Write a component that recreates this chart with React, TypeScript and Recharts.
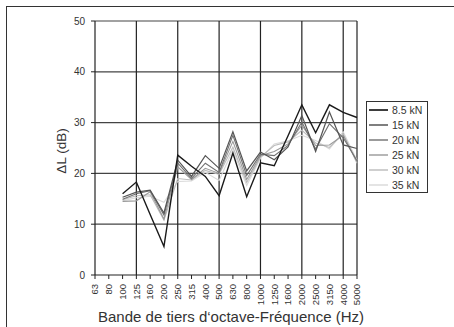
import React from 'react';
import { LineChart, Line, XAxis, YAxis, ReferenceLine } from 'recharts';

// tiers d'octave, 63 Hz .. 5000 Hz
const FREQS = ['63', '80', '100', '125', '160', '200', '250', '315', '400', '500', '630', '800', '1000', '1250', '1600', '2000', '2500', '3150', '4000', '5000'];

const LOAD_8_5 = [null, null, 16.0, 18.3, 11.9, 5.6, 23.6, 21.4, 19.4, 15.6, 24.0, 15.4, 22.1, 21.5, 27.4, 33.5, 28.0, 33.5, 32.0, 31.0];
const LOAD_15 = [null, null, 15.3, 16.3, 16.7, 12.2, 22.6, 19.4, 23.5, 21.0, 28.2, 20.5, 24.2, 22.7, 25.2, 31.4, 24.3, 32.1, 25.6, 24.9];
const LOAD_20 = [null, null, 14.9, 16.0, 16.6, 11.8, 22.0, 19.0, 22.0, 20.2, 27.5, 19.6, 23.8, 23.5, 25.5, 30.1, 24.8, 29.8, 27.0, 22.5];
const LOAD_25 = [null, null, 14.5, 14.6, 16.4, 11.0, 21.3, 18.8, 21.0, 20.0, 26.3, 18.8, 23.5, 24.3, 25.8, 29.5, 25.5, 25.6, 27.5, 22.3];
const LOAD_30 = [null, null, 14.8, 15.6, 15.8, 10.8, 19.0, 18.7, 20.6, 19.8, 25.2, 18.2, 23.2, 25.5, 26.2, 28.5, 26.0, 25.1, 27.8, 22.0];
const LOAD_35 = [null, null, 14.6, 15.2, 15.5, 14.3, 18.4, 18.5, 20.2, 18.6, 24.6, 17.6, 23.0, 25.8, 26.4, 27.5, 26.5, 24.8, 28.2, 22.6];

const Y_TICKS = [0, 10, 20, 30, 40, 50];
const V_GRID = ['125', '250', '500', '1000', '2000', '4000', '5000'];

const SERIES = [
    { key: 'l85', name: '8.5 kN', values: LOAD_8_5, color: '#1a1a1a', width: 1.4 },
    { key: 'l15', name: '15 kN', values: LOAD_15, color: '#555555', width: 1.2 },
    { key: 'l20', name: '20 kN', values: LOAD_20, color: '#707070', width: 1.1 },
    { key: 'l25', name: '25 kN', values: LOAD_25, color: '#999999', width: 1.1 },
    { key: 'l30', name: '30 kN', values: LOAD_30, color: '#bbbbbb', width: 1.1 },
    { key: 'l35', name: '35 kN', values: LOAD_35, color: '#d9d9d9', width: 1.1 },
];

const data = FREQS.map((freq, i) => {
    const row: any = { freq };
    SERIES.forEach(s => { row[s.key] = s.values[i]; });
    return row;
});

const FONT = '"Liberation Sans", Arial, Helvetica, sans-serif';

const FreqTick = ({ x, y, payload }: any) => (
    <g transform={`translate(${x},${y})`}>
        <text transform="rotate(-90)" textAnchor="end" dy="0.35em" fontSize={9.5} fill="#333" fontFamily={FONT}>
            {payload.value}
        </text>
    </g>
);

const App: React.FC = () => {
    return (
        <div style={{ position: 'absolute', left: 0, top: 0, width: 454, height: 327, background: '#fff', fontFamily: FONT }}>
            {/* bord du cadre (haut + gauche) */}
            <div style={{ position: 'absolute', left: 6, top: 6, right: 0, bottom: 0, borderTop: '1.5px solid #333', borderLeft: '1.5px solid #333' }} />
            <LineChart width={454} height={327} data={data} margin={{ top: 21, right: 97, left: 55, bottom: 0 }}>
                {Y_TICKS.filter(t => t > 0).map(t => (
                    <ReferenceLine key={'h' + t} y={t} stroke="#444" strokeWidth={1.2} />
                ))}
                {V_GRID.map(f => (
                    <ReferenceLine key={'v' + f} x={f} stroke="#222" strokeWidth={1.2} />
                ))}
                <XAxis
                    dataKey="freq"
                    height={52}
                    interval={0}
                    tick={<FreqTick />}
                    tickSize={4}
                    tickMargin={5}
                    axisLine={{ stroke: '#222', strokeWidth: 1.2 }}
                    tickLine={{ stroke: '#222' }}
                />
                <YAxis
                    width={40}
                    domain={[0, 50]}
                    ticks={Y_TICKS}
                    interval={0}
                    tickSize={4}
                    tickMargin={6}
                    tick={{ fontSize: 10, fill: '#333', fontFamily: FONT }}
                    axisLine={{ stroke: '#222', strokeWidth: 1.2 }}
                    tickLine={{ stroke: '#222' }}
                />
                {[...SERIES].reverse().map(s => (
                    <Line
                        key={s.key}
                        type="linear"
                        dataKey={s.key}
                        name={s.name}
                        stroke={s.color}
                        strokeWidth={s.width}
                        dot={false}
                        isAnimationActive={false}
                    />
                ))}
            </LineChart>
            {/* titre axe Y */}
            <div style={{ position: 'absolute', left: 12, top: 143, width: 100, height: 16, lineHeight: '16px', textAlign: 'center', fontSize: 13.5, color: '#333', transform: 'rotate(-90deg)' }}>
                ΔL (dB)
            </div>
            {/* titre axe X */}
            <div style={{ position: 'absolute', left: 31, top: 309, width: 400, height: 16, lineHeight: '16px', textAlign: 'center', fontSize: 15, color: '#333' }}>
                Bande de tiers d‘octave-Fréquence (Hz)
            </div>
            {/* légende */}
            <div style={{ position: 'absolute', left: 366, top: 101, width: 60, height: 89, border: '1.3px solid #333', background: '#fff', paddingTop: 1 }}>
                {SERIES.map(s => (
                    <div key={s.key} style={{ display: 'flex', alignItems: 'center', height: 14.9, fontSize: 10.5, color: '#333' }}>
                        <svg width={21} height={6} style={{ marginLeft: 2, marginRight: 2 }}>
                            <line x1={0} x2={19} y1={3} y2={3} stroke={s.color} strokeWidth={s.width + 0.3} />
                        </svg>
                        <span>{s.name}</span>
                    </div>
                ))}
            </div>
        </div>
    );
};

export default App;
